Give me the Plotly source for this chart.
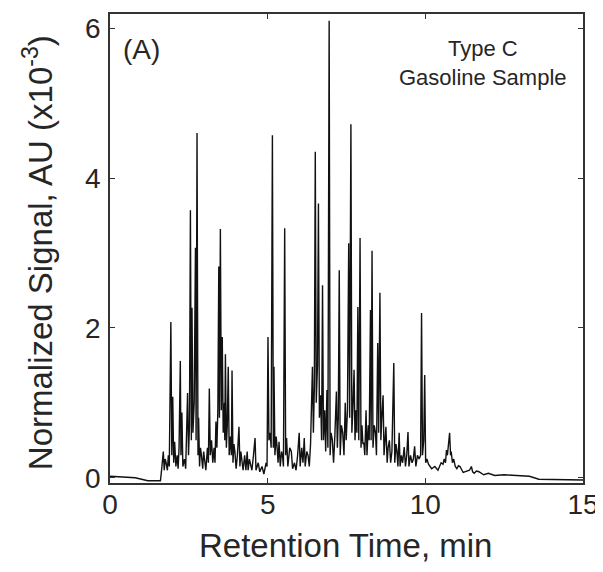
import plotly.graph_objects as go

# Chromatogram polyline (retention time, min ; signal, AU x10^-3)
rt = [0.0, 0.8, 1.2, 1.6, 1.64, 1.69, 1.72, 1.75, 1.78, 1.82, 1.85, 1.88, 1.93, 1.96, 1.99, 2.02,
      2.05, 2.09, 2.13, 2.16, 2.19, 2.23, 2.25, 2.28, 2.31, 2.36, 2.40, 2.43, 2.46, 2.49, 2.52,
      2.55, 2.58, 2.60, 2.63, 2.67, 2.71, 2.73, 2.76, 2.79, 2.81, 2.84, 2.87, 2.90, 2.94, 2.97,
      3.00, 3.04, 3.09, 3.12, 3.15, 3.18, 3.22, 3.26, 3.30, 3.33, 3.36, 3.39, 3.42, 3.45, 3.47,
      3.50, 3.53, 3.56, 3.59, 3.63, 3.64, 3.66, 3.69, 3.72, 3.75, 3.78, 3.81, 3.84, 3.85, 3.87,
      3.90, 3.93, 3.96, 4.00, 4.04, 4.09, 4.12, 4.15, 4.18, 4.22, 4.27, 4.31, 4.35, 4.38, 4.42,
      4.45, 4.50, 4.55, 4.60, 4.63, 4.70, 4.75, 4.82, 4.88, 4.95, 4.98, 5.01, 5.04, 5.08, 5.11,
      5.15, 5.18, 5.20, 5.23, 5.27, 5.30, 5.33, 5.36, 5.40, 5.44, 5.47, 5.50, 5.54, 5.57, 5.60,
      5.64, 5.70, 5.75, 5.79, 5.85, 5.90, 5.95, 6.00, 6.03, 6.08, 6.12, 6.16, 6.19, 6.24, 6.28,
      6.32, 6.36, 6.42, 6.45, 6.48, 6.51, 6.54, 6.58, 6.61, 6.64, 6.68, 6.71, 6.74, 6.77, 6.81,
      6.84, 6.88, 6.91, 6.95, 6.98, 7.01, 7.05, 7.09, 7.13, 7.18, 7.21, 7.24, 7.27, 7.30, 7.34,
      7.38, 7.42, 7.46, 7.49, 7.53, 7.57, 7.60, 7.64, 7.67, 7.70, 7.74, 7.77, 7.80, 7.83, 7.86,
      7.89, 7.93, 7.96, 7.99, 8.02, 8.05, 8.08, 8.12, 8.15, 8.19, 8.22, 8.26, 8.28, 8.31, 8.34,
      8.38, 8.42, 8.45, 8.49, 8.52, 8.56, 8.59, 8.62, 8.66, 8.69, 8.72, 8.75, 8.79, 8.82, 8.86,
      8.90, 8.94, 9.00, 9.03, 9.07, 9.10, 9.13, 9.17, 9.20, 9.24, 9.28, 9.33, 9.37, 9.41, 9.45,
      9.48, 9.53, 9.58, 9.62, 9.66, 9.70, 9.75, 9.80, 9.85, 9.88, 9.91, 9.95, 9.98, 10.01, 10.05,
      10.10, 10.20, 10.30, 10.40, 10.50, 10.56, 10.60, 10.64, 10.67, 10.70, 10.72, 10.75, 10.77,
      10.80, 10.82, 10.86, 10.90, 10.95, 11.00, 11.05, 11.10, 11.20, 11.30, 11.40, 11.46, 11.50,
      11.55, 11.62, 11.70, 11.85, 12.00, 12.20, 12.50, 12.90, 13.30, 13.60, 15.0]
signal = [0.02, 0.0, -0.04, -0.04, 0.12, 0.35, 0.10, 0.25, 0.20, 0.10, 0.30, 0.15, 2.08, 0.30, 1.08, 0.20,
          0.48, 0.15, 0.30, 0.12, 0.40, 1.56, 0.30, 0.87, 0.15, 0.25, 0.12, 0.50, 1.13, 0.30, 0.70,
          3.57, 0.50, 2.27, 0.60, 1.00, 3.07, 0.50, 4.60, 0.30, 0.80, 0.15, 0.40, 0.30, 0.12, 0.35,
          0.25, 0.10, 0.40, 0.20, 1.19, 0.30, 0.50, 0.20, 0.40, 0.20, 0.75, 0.40, 0.90, 2.82, 0.80,
          3.32, 0.90, 1.88, 0.60, 1.00, 0.50, 1.65, 0.40, 0.70, 1.48, 0.30, 0.55, 0.40, 0.30, 1.43,
          0.20, 0.45, 0.35, 0.12, 0.30, 0.68, 0.15, 0.35, 0.25, 0.10, 0.30, 0.10, 0.35, 0.10, 0.25,
          0.20, 0.10, 0.30, 0.53, 0.10, 0.20, 0.08, 0.15, 0.05, 0.20, 0.15, 1.88, 0.50, 0.60, 0.40,
          4.57, 0.40, 1.48, 0.30, 0.55, 0.40, 0.20, 0.48, 0.15, 0.35, 0.30, 0.15, 3.33, 0.30, 0.53,
          0.15, 0.40, 0.35, 0.12, 0.20, 0.10, 0.30, 0.60, 0.15, 0.40, 0.20, 0.53, 0.15, 0.35, 0.30,
          0.15, 0.45, 1.48, 0.60, 1.20, 4.35, 1.00, 1.50, 3.66, 0.80, 1.10, 0.50, 2.57, 0.50, 0.90,
          0.35, 1.17, 0.40, 6.10, 0.30, 0.60, 0.51, 0.20, 0.55, 1.15, 0.40, 0.80, 2.77, 0.30, 0.70,
          0.60, 0.30, 1.00, 0.50, 0.90, 3.13, 0.80, 4.72, 0.60, 0.90, 1.44, 0.50, 0.90, 0.60, 2.28,
          0.50, 3.20, 0.40, 0.70, 0.45, 0.47, 0.30, 0.90, 0.30, 0.70, 0.50, 2.24, 0.50, 3.03, 0.40,
          0.70, 0.60, 0.30, 1.80, 0.60, 2.47, 0.50, 0.80, 1.10, 0.30, 0.55, 0.68, 0.20, 0.40, 0.50,
          0.20, 0.35, 1.53, 0.20, 0.45, 0.35, 0.15, 0.60, 0.15, 0.30, 0.20, 0.41, 0.15, 0.30, 0.61,
          0.15, 0.30, 0.20, 0.25, 0.42, 0.15, 0.30, 0.25, 0.30, 2.20, 0.30, 0.50, 1.37, 0.20, 0.25,
          0.18, 0.12, 0.15, 0.10, 0.20, 0.18, 0.25, 0.20, 0.37, 0.30, 0.40, 0.50, 0.60,
          0.30, 0.35, 0.20, 0.25, 0.15, 0.12, 0.16, 0.15, 0.07, 0.08, 0.10, 0.15, 0.08,
          0.06, 0.09, 0.08, 0.04, 0.06, 0.03, 0.04, 0.03, 0.02, -0.02, -0.03]

x_ticks = [0, 5, 10, 15]
y_ticks = [0, 2, 4, 6]

FONT = "Liberation Sans, Arial, sans-serif"
TXT = "#262626"
# page body has an 8px margin, so the figure is drawn 8px right/down of the window corner
W, H = 595, 564
L, R, T, B = 102, 20, 6, 89

fig = go.Figure()
fig.add_trace(go.Scatter(x=rt, y=signal, mode="lines",
                         line=dict(color="#111111", width=1.4), hoverinfo="skip"))

axis_common = dict(showline=True, linecolor="#333333", linewidth=1.8, mirror="ticks",
                   ticks="inside", ticklen=5, tickwidth=1.3, tickcolor="#333333",
                   showgrid=False, zeroline=False, automargin=False,
                   tickfont=dict(family=FONT, size=28, color=TXT))

fig.update_xaxes(range=[0, 15], tickvals=x_ticks, ticktext=[str(v) for v in x_ticks],
                 ticklabelstandoff=-5, **axis_common)
fig.update_yaxes(range=[-0.07, 6.19], tickvals=y_ticks, ticktext=[str(v) for v in y_ticks],
                 ticklabelstandoff=2, **axis_common)

# axis titles
fig.add_annotation(x=0.497, y=0, xref="paper", yref="paper", xanchor="center", yanchor="middle",
                   yshift=-62, text="Retention Time, min", showarrow=False,
                   font=dict(family=FONT, size=33, color=TXT))
fig.add_annotation(x=0, y=0.49, xref="paper", yref="paper", xanchor="center", yanchor="middle",
                   xshift=-72, textangle=-90, text="Normalized Signal, AU (x10<sup>-3</sup>)",
                   showarrow=False, font=dict(family=FONT, size=33, color=TXT))

fig.add_annotation(x=0, y=1, xref="paper", yref="paper", xanchor="left", yanchor="top",
                   xshift=11, yshift=-18, text="(A)", showarrow=False,
                   font=dict(family=FONT, size=28, color=TXT))
fig.add_annotation(x=0.789, y=1, xref="paper", yref="paper", xanchor="center", yanchor="top",
                   yshift=-20, text="Type C<br>Gasoline Sample", showarrow=False,
                   font=dict(family=FONT, size=22, color=TXT))

fig.update_layout(width=W, height=H, margin=dict(l=L, r=R, t=T, b=B),
                  paper_bgcolor="white", plot_bgcolor="white", showlegend=False)

fig.write_html("out.html")
